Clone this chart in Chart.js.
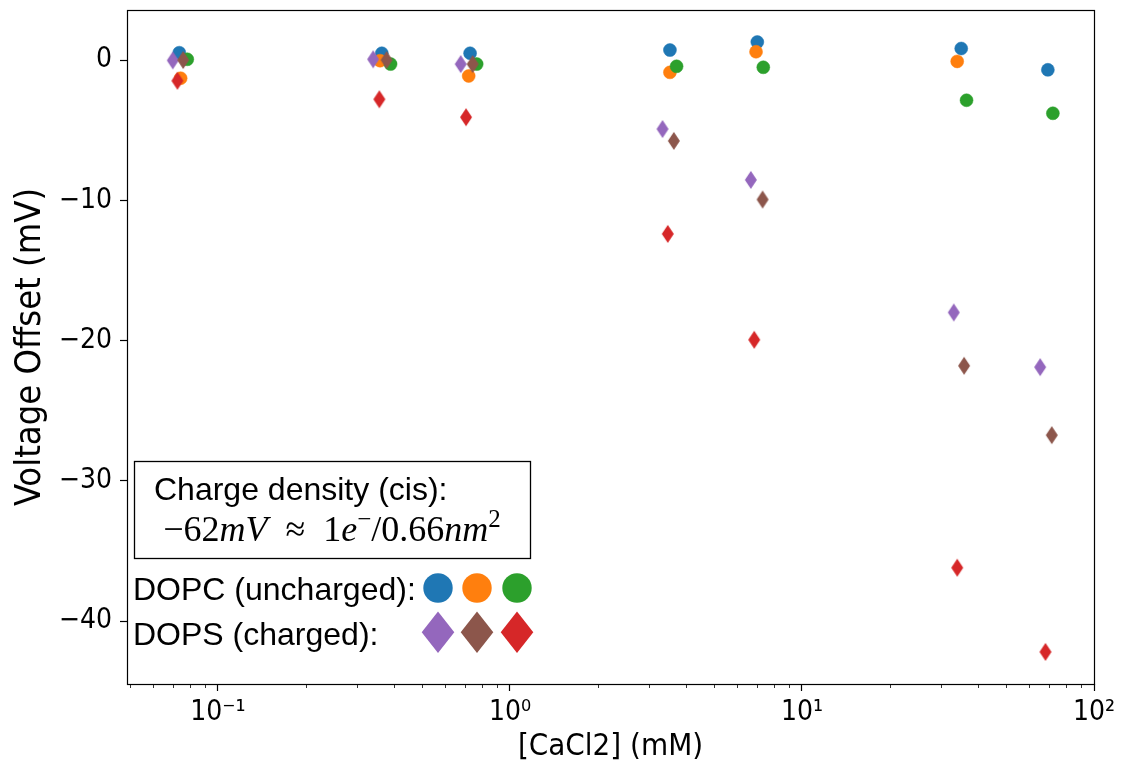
<!DOCTYPE html>
<html>
<head>
<meta charset="utf-8">
<script src="https://cdn.jsdelivr.net/npm/chart.js@4.4.0/dist/chart.umd.min.js"></script>
<style>
  body { margin: 0; background: #fff; }
  #wrap { width: 1121px; height: 768px; position: relative; }
</style>
</head>
<body>
<div id="wrap"><canvas id="myChart"></canvas></div>
<script>
// [CaCl2] (mM) and voltage offset (mV) per run
const dopcX1 = [0.0737, 0.364, 0.730, 3.53, 7.03, 35.1, 69.5];
const dopcY1 = [0.52, 0.48, 0.48, 0.71, 1.28, 0.82, -0.70];
const dopcX2 = [0.0745, 0.359, 0.722, 3.53, 6.96, 34.0];
const dopcY2 = [-1.30, -0.05, -1.14, -0.88, 0.59, -0.10];
const dopcX3 = [0.0785, 0.390, 0.769, 3.72, 7.37, 36.6, 72.3];
const dopcY3 = [0.05, -0.29, -0.29, -0.45, -0.52, -2.87, -3.80];
const dopsX1 = [0.0700, 0.340, 0.678, 3.33, 6.68, 33.1, 65.4];
const dopsY1 = [-0.03, 0.05, -0.29, -4.92, -8.55, -18.0, -21.9];
const dopsX2 = [0.0760, 0.378, 0.745, 3.64, 7.33, 35.9, 71.7];
const dopsY2 = [0.0, 0.0, -0.29, -5.77, -9.95, -21.8, -26.75];
const dopsX3 = [0.0726, 0.357, 0.707, 3.47, 6.86, 34.0, 68.2];
const dopsY3 = [-1.48, -2.80, -4.08, -12.4, -19.95, -36.2, -42.2];

const xMajorTicks = [0.1, 1, 10, 100];
const xTickLabels = ['10\u207B\u00B9', '10\u2070', '10\u00B9', '10\u00B2'];
const yTicks = [-40, -30, -20, -10, 0];
const yTickLabels = ['\u221240', '\u221230', '\u221220', '\u221210', '0'];

const blue = '#1f77b4', orange = '#ff7f0e', green = '#2ca02c',
      purple = '#9467bd', brown = '#8c564b', red = '#d62728';

function pts(xs, ys) {
    var out = [];
    for (var i = 0; i < xs.length; i++) out.push({x: xs[i], y: ys[i]});
    return out;
}

// matplotlib style thin diamond
function thinDiamond(color, w, h) {
    var c = document.createElement('canvas');
    c.width = w + 2;
    c.height = h + 2;
    var g = c.getContext('2d');
    g.fillStyle = color;
    g.beginPath();
    g.moveTo(c.width / 2, 1);
    g.lineTo(c.width - 1, c.height / 2);
    g.lineTo(c.width / 2, c.height - 1);
    g.lineTo(1, c.height / 2);
    g.closePath();
    g.fill();
    return c;
}

function circleSet(label, data, color, order) {
    return {label: label, data: data, backgroundColor: color, borderColor: color,
            borderWidth: 0.5, pointRadius: 6.5, pointHoverRadius: 6.5, order: order};
}
function diamondSet(label, data, color, order) {
    return {label: label, data: data, backgroundColor: color, borderColor: color,
            pointStyle: thinDiamond(color, 12, 18), pointRadius: 6, order: order};
}

// minor ticks on the log axis (2..9 x 10^n)
var xMinorTicks = [];
for (var e = -2; e < 2; e++) {
    for (var m = 2; m <= 9; m++) {
        var v = m * Math.pow(10, e);
        if (v > 0.0488 && v < 100) xMinorTicks.push(v);
    }
}

const annotationPlugin = {
    id: 'annotation',
    afterDraw(chart) {
        const ctx = chart.ctx;
        const a = chart.chartArea;
        const xs = chart.scales.x;
        ctx.save();
        // frame
        ctx.strokeStyle = '#000';
        ctx.lineWidth = 1.2;
        ctx.strokeRect(a.left + 0.5, a.top + 0.5, a.right - a.left, a.bottom - a.top);

        // minor ticks
        ctx.lineWidth = 0.8;
        ctx.beginPath();
        xMinorTicks.forEach(function(v) {
            var px = Math.round(xs.getPixelForValue(v)) + 0.5;
            ctx.moveTo(px, a.bottom);
            ctx.lineTo(px, a.bottom + 4);
        });
        ctx.stroke();

        // text box
        ctx.fillStyle = '#fff';
        ctx.fillRect(134, 461, 397, 98);
        ctx.lineWidth = 1.3;
        ctx.strokeStyle = '#000';
        ctx.strokeRect(134.5, 461.5, 396, 97);

        ctx.fillStyle = '#000';
        ctx.textBaseline = 'alphabetic';
        ctx.textAlign = 'left';
        ctx.font = '32px "Liberation Sans", Arial, sans-serif';
        ctx.fillText('Charge density (cis):', 154, 500);

        // math line
        var size = 36;
        var parts = [['\u221262', 'n'], ['mV', 'i'], ['  \u2248  ', 'n'], ['1', 'n'], ['e', 'i'],
                     ['\u2212', 's'], ['/0.66', 'n'], ['nm', 'i'], ['2', 's']];
        function fontFor(kind) {
            if (kind === 'i') return 'italic ' + size + 'px "Liberation Serif", serif';
            if (kind === 's') return Math.round(size * 0.7) + 'px "Liberation Serif", serif';
            return size + 'px "Liberation Serif", serif';
        }
        var total = 0;
        parts.forEach(function(p) { ctx.font = fontFor(p[1]); total += ctx.measureText(p[0]).width; });
        var cx = 332 - total / 2;
        parts.forEach(function(p) {
            ctx.font = fontFor(p[1]);
            ctx.fillText(p[0], cx, p[1] === 's' ? 527 : 541);
            cx += ctx.measureText(p[0]).width;
        });

        // marker legend
        ctx.font = '32px "Liberation Sans", Arial, sans-serif';
        ctx.fillText('DOPC (uncharged):', 133, 600);
        ctx.fillText('DOPS (charged):', 133, 645);
        var mx = [438, 477, 517];
        [blue, orange, green].forEach(function(c, i) {
            ctx.fillStyle = c;
            ctx.beginPath();
            ctx.arc(mx[i], 588, 14.7, 0, Math.PI * 2);
            ctx.fill();
        });
        [purple, brown, red].forEach(function(c, i) {
            ctx.fillStyle = c;
            ctx.beginPath();
            ctx.moveTo(mx[i], 611.5);
            ctx.lineTo(mx[i] + 16.3, 632.3);
            ctx.lineTo(mx[i], 653);
            ctx.lineTo(mx[i] - 16.3, 632.3);
            ctx.closePath();
            ctx.fill();
        });
        ctx.restore();
    }
};

const ctx = document.getElementById('myChart');
new Chart(ctx, {
    type: 'scatter',
    data: {
        datasets: [
            circleSet('DOPC 1', pts(dopcX1, dopcY1), blue, 6),
            circleSet('DOPC 2', pts(dopcX2, dopcY2), orange, 5),
            circleSet('DOPC 3', pts(dopcX3, dopcY3), green, 4),
            diamondSet('DOPS 1', pts(dopsX1, dopsY1), purple, 3),
            diamondSet('DOPS 2', pts(dopsX2, dopsY2), brown, 2),
            diamondSet('DOPS 3', pts(dopsX3, dopsY3), red, 1)
        ]
    },
    options: {
        responsive: true,
        maintainAspectRatio: false,
        animation: false,
        layout: {padding: {left: 0, right: 27, top: 10, bottom: 0}},
        plugins: {legend: {display: false}, tooltip: {enabled: false}},
        scales: {
            x: {
                type: 'logarithmic',
                min: 0.0488,
                max: 100,
                afterBuildTicks: function(scale) {
                    scale.ticks = xMajorTicks.map(function(v) { return {value: v, major: true}; });
                },
                afterFit: function(scale) {
                    scale.height = 84;
                    scale.paddingLeft = 0;
                    scale.paddingRight = 0;
                },
                ticks: {
                    autoSkip: false,
                    maxRotation: 0,
                    padding: 5,
                    color: '#000',
                    font: {family: '"DejaVu Sans Condensed", "DejaVu Sans"', size: 28},
                    callback: function(value, index) { return xTickLabels[index]; }
                },
                grid: {drawOnChartArea: false, tickLength: 7, tickWidth: 1.2, tickColor: '#000'},
                border: {display: false},
                title: {
                    display: true,
                    text: '[CaCl2] (mM)',
                    color: '#000',
                    padding: {top: 0, bottom: 2},
                    font: {family: '"DejaVu Sans Condensed", "DejaVu Sans"', size: 31, lineHeight: 1.2}
                }
            },
            y: {
                min: -44.49,
                max: 3.565,
                afterBuildTicks: function(scale) {
                    scale.ticks = yTicks.map(function(v) { return {value: v}; });
                },
                afterFit: function(scale) {
                    scale.width = 127;
                    scale.paddingTop = 0;
                    scale.paddingBottom = 0;
                },
                ticks: {
                    padding: 8,
                    color: '#000',
                    font: {family: '"DejaVu Sans Condensed", "DejaVu Sans"', size: 28},
                    callback: function(value, index) { return yTickLabels[index]; }
                },
                grid: {drawOnChartArea: false, tickLength: 7, tickWidth: 1.2, tickColor: '#000'},
                border: {display: false},
                title: {
                    display: true,
                    text: 'Voltage Offset (mV)',
                    color: '#000',
                    padding: {top: 9, bottom: 0},
                    font: {family: '"DejaVu Sans Condensed", "DejaVu Sans"', size: 36, lineHeight: 1.2}
                }
            }
        }
    },
    plugins: [annotationPlugin]
});
</script>
</body>
</html>
